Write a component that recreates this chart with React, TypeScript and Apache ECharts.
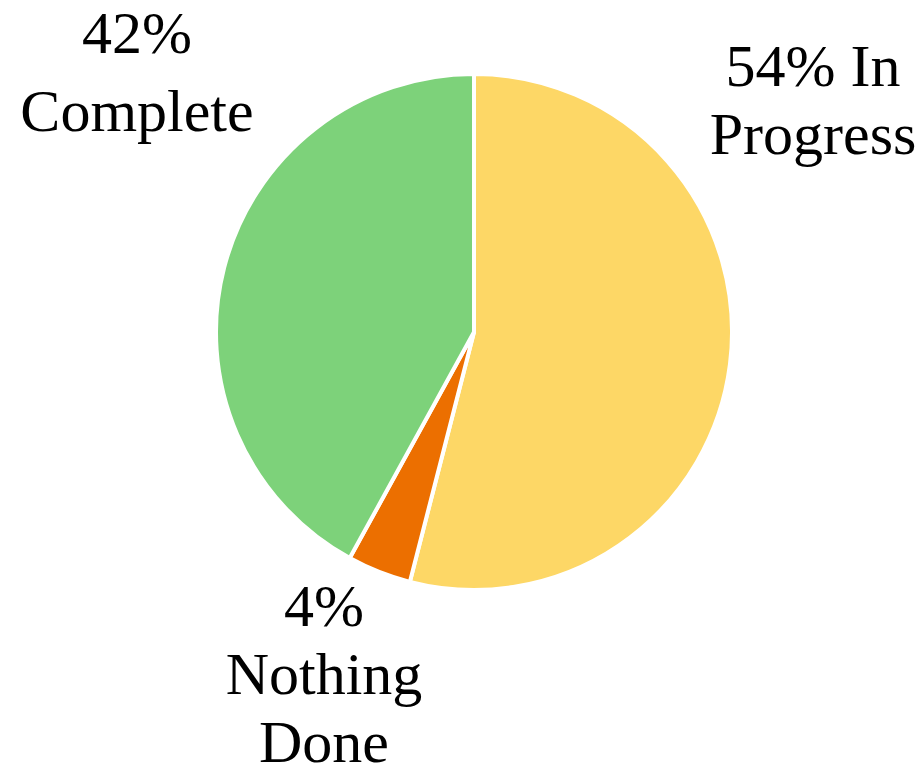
import React, { useEffect, useRef } from "react";
import * as echarts from "echarts";

const categories = ["In Progress", "Nothing Done", "Complete"];
const values = [54, 4, 42];
const labels = ["54% In\nProgress", "4%\nNothing\nDone", "42%\nComplete"];
const colors = ["#FDD766", "#EC6F00", "#7DD27A"];
const labelCenters = [
  [813, 100],
  [324, 674],
  [137, 72],
];
const labelLineHeights = [68, 68, 78];

export default function App() {
  const ref = useRef<HTMLDivElement>(null);
  useEffect(() => {
    if (!ref.current) return;
    const chart = echarts.init(ref.current, undefined, { renderer: "svg" });
    chart.setOption({
      animation: false,
      backgroundColor: "#ffffff",
      series: [
        {
          type: "pie",
          center: [474, 332],
          radius: [0, 258],
          startAngle: 90,
          clockwise: true,
          avoidLabelOverlap: false,
          itemStyle: { borderColor: "#ffffff", borderWidth: 4 },
          label: {
            show: true,
            position: "outside",
            formatter: (p: any) => labels[p.dataIndex],
            fontFamily: "'Liberation Serif', 'Times New Roman', serif",
            fontSize: 60,
            color: "#000000",
            align: "center",
          },
          labelLine: { show: false },
          labelLayout: (p: any) => ({
            x: labelCenters[p.dataIndex][0],
            y: labelCenters[p.dataIndex][1],
            align: "center",
            verticalAlign: "middle",
          }),
          emphasis: { disabled: true },
          data: categories.map((c, i) => ({
            name: c,
            value: values[i],
            itemStyle: { color: colors[i] },
            label: { lineHeight: labelLineHeights[i] },
          })),
        },
      ],
    });
    return () => chart.dispose();
  }, []);
  return (
    <div
      ref={ref}
      style={{ position: "fixed", left: 0, top: 0, width: 924, height: 778 }}
    />
  );
}
